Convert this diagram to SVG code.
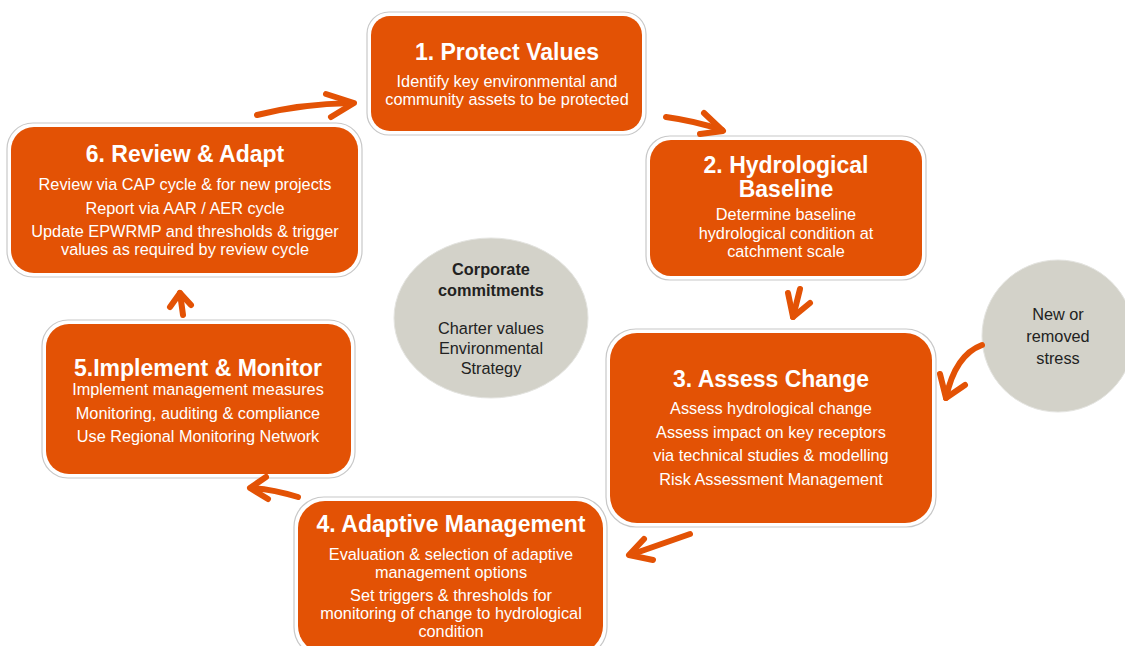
<svg xmlns="http://www.w3.org/2000/svg" width="1125" height="646" viewBox="0 0 1125 646">
<defs>
<style>
.frame{fill:#ffffff;stroke:#c8c8c8;stroke-width:1.2}
.box{fill:#E35205}
.title{font-family:"Liberation Sans",Arial,sans-serif;font-weight:bold;fill:#ffffff;text-anchor:middle;font-size:23px}
.body{font-family:"Liberation Sans",Arial,sans-serif;fill:#ffffff;text-anchor:middle;font-size:16.3px}
.circ{fill:#D3D2C9;stroke:#e4e4e0;stroke-width:1}
.ctext{font-family:"Liberation Sans",Arial,sans-serif;fill:#222222;text-anchor:middle;font-size:16.3px}
.arrow{fill:none;stroke:#E35205;stroke-width:6;stroke-linecap:round;stroke-linejoin:round}
</style>
</defs>
<rect width="1125" height="646" fill="#ffffff"/>

<g id="center-circle">
<ellipse class="circ" cx="491" cy="318" rx="97" ry="80"/>
<text class="ctext" x="491" y="275" font-weight="bold"><tspan x="491">Corporate</tspan><tspan x="491" dy="21">commitments</tspan></text>
<text class="ctext" x="491" y="334"><tspan x="491">Charter values</tspan><tspan x="491" dy="20">Environmental</tspan><tspan x="491" dy="20">Strategy</tspan></text>
</g>

<g id="stress-circle">
<circle class="circ" cx="1058" cy="336" r="76"/>
<text class="ctext" x="1058" y="320" font-size="19"><tspan x="1058">New or</tspan><tspan x="1058" dy="22">removed</tspan><tspan x="1058" dy="22">stress</tspan></text>
</g>

<g id="node1">
<rect class="frame" x="367" y="12" width="279" height="123" rx="22"/>
<rect class="box" x="371" y="16" width="271" height="115" rx="19"/>
<text class="title" x="507" y="60">1. Protect Values</text>
<text class="body" x="507" y="87"><tspan x="507">Identify key environmental and</tspan><tspan x="507" dy="18">community assets to be protected</tspan></text>
</g>

<g id="node2">
<rect class="frame" x="646" y="136" width="280" height="144" rx="24"/>
<rect class="box" x="650" y="140" width="272" height="136" rx="21"/>
<text class="title" x="786" y="173" font-size="22.5">2. Hydrological</text>
<text class="title" x="786" y="197" font-size="22.5">Baseline</text>
<text class="body" x="786" y="220" font-size="18"><tspan x="786">Determine baseline</tspan><tspan x="786" dy="18.5">hydrological condition at</tspan><tspan x="786" dy="18">catchment scale</tspan></text>
</g>

<g id="node3">
<rect class="frame" x="606" y="329" width="330" height="198" rx="30"/>
<rect class="box" x="610" y="333" width="322" height="190" rx="27"/>
<text class="title" x="771" y="387">3. Assess Change</text>
<text class="body" x="771" y="414"><tspan x="771">Assess hydrological change</tspan><tspan x="771" dy="23.5">Assess impact on key receptors</tspan><tspan x="771" dy="23.5">via technical studies &amp; modelling</tspan><tspan x="771" dy="23.5">Risk Assessment Management</tspan></text>
</g>

<g id="node4">
<rect class="frame" x="294" y="497" width="313" height="160" rx="30"/>
<rect class="box" x="298" y="501" width="305" height="152" rx="27"/>
<text class="title" x="451" y="532">4. Adaptive Management</text>
<text class="body" x="451" y="560"><tspan x="451">Evaluation &amp; selection of adaptive</tspan><tspan x="451" dy="18">management options</tspan><tspan x="451" dy="23">Set triggers &amp; thresholds for</tspan><tspan x="451" dy="18">monitoring of change to hydrological</tspan><tspan x="451" dy="18">condition</tspan></text>
</g>

<g id="node5">
<rect class="frame" x="42" y="320" width="313" height="158" rx="26"/>
<rect class="box" x="46" y="324" width="305" height="150" rx="23"/>
<text class="title" x="198" y="376">5.Implement &amp; Monitor</text>
<text class="body" x="198" y="395"><tspan x="198">Implement management measures</tspan><tspan x="198" dy="23.5">Monitoring, auditing &amp; compliance</tspan><tspan x="198" dy="23.5">Use Regional Monitoring Network</tspan></text>
</g>

<g id="node6">
<rect class="frame" x="7" y="123" width="355" height="154" rx="26"/>
<rect class="box" x="11" y="127" width="347" height="146" rx="23"/>
<text class="title" x="185" y="162">6. Review &amp; Adapt</text>
<text class="body" x="185" y="190" font-size="16.8"><tspan x="185">Review via CAP cycle &amp; for new projects</tspan><tspan x="185" dy="23.5">Report via AAR / AER cycle</tspan><tspan x="185" dy="23.5">Update EPWRMP and thresholds &amp; trigger</tspan><tspan x="185" dy="17.5">values as required by review cycle</tspan></text>
</g>

<g id="connectors">
<path class="arrow" d="M257,115 Q300,104 352,103"/>
<path class="arrow" d="M326,94 L354,103 L331,117"/>

<path class="arrow" d="M666,117 Q695,121 722,130"/>
<path class="arrow" d="M704,113 L723,131 L700,134"/>

<path class="arrow" d="M800,289 L793,317"/>
<path class="arrow" d="M788,293 L793,317 L810,303"/>

<path class="arrow" d="M690,534 L630,555"/>
<path class="arrow" d="M644,539 L629,555 L653,560"/>

<path class="arrow" d="M298,497 Q272,489 251,488"/>
<path class="arrow" d="M266,477 L250,488 L268,499"/>

<path class="arrow" d="M183,315 L180,293"/>
<path class="arrow" d="M170,307 L180,293 L191,305"/>

<path class="arrow" d="M982,345 Q955,355 946,398"/>
<path class="arrow" d="M940,374 L946,398 L965,385"/>
</g>
</svg>
